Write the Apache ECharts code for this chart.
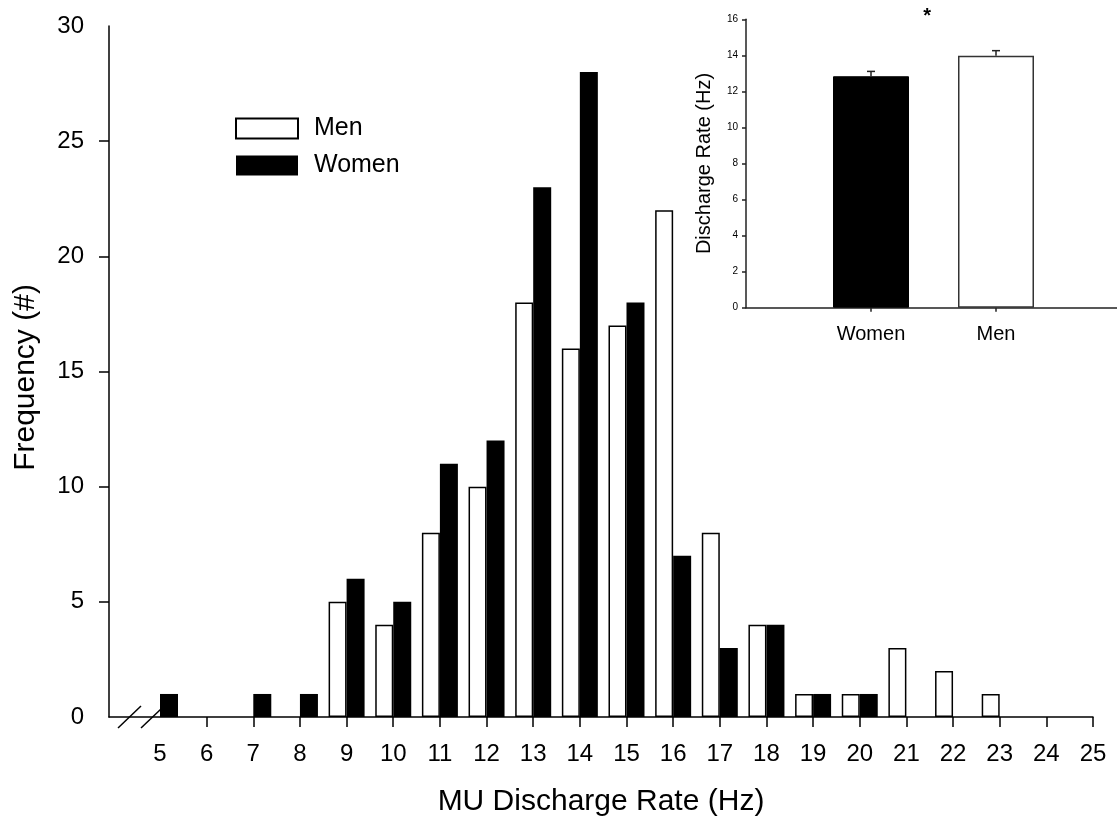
<!DOCTYPE html>
<html><head><meta charset="utf-8">
<script src="https://cdn.jsdelivr.net/npm/echarts@6/dist/echarts.min.js"></script>
<style>html,body{margin:0;padding:0;background:#fff}#c{width:1117px;height:819px}</style>
</head><body><div id="c"></div>
<script>
// ---- Data ----
const rateBins = [5,6,7,8,9,10,11,12,13,14,15,16,17,18,19,20,21,22,23,24,25];
const menCounts = [0,0,0,0,5,4,8,10,18,16,17,22,8,4,1,1,3,2,1,0,0];
const womenCounts = [1,0,1,1,6,5,11,12,23,28,18,7,3,4,1,1,0,0,0,0,0];
const xTickValues = [6,7,8,9,10,11,12,13,14,15,16,17,18,19,20,21,22,23,24,25];
const xLabelValues = [5,6,7,8,9,10,11,12,13,14,15,16,17,18,19,20,21,22,23,24,25];
const yTickValues = [5,10,15,20,25];
const insetGroups = ['Women','Men'];
const insetMeans = [12.84, 13.98];
const insetSem = [0.27, 0.28];

const FONT = "'Liberation Sans', Arial, sans-serif";
const chart = echarts.init(document.getElementById('c'), null, {renderer:'canvas'});

const toPairs = counts => rateBins.map((b,i)=>[b, counts[i]]).filter(p=>p[1]>0);
const insetPos = insetGroups.map((g,i)=>i+1);

const axisLineStyle = {color:'#000', width:1.5};
const insetLineStyle = {color:'#222', width:1.5};

chart.setOption({
  animation:false,
  backgroundColor:'#fff',
  textStyle:{fontFamily:FONT, color:'#000'},
  legend:{
    data:['Men','Women'], orient:'vertical', left:235, top:116, padding:0,
    itemWidth:62, itemHeight:20, itemGap:12, icon:'rect',
    textStyle:{fontSize:25, color:'#000', fontFamily:FONT, padding:[0,0,0,11]}
  },
  grid:[
    {left:109, right:24, top:26, bottom:102, outerBoundsMode:'none', containLabel:false},
    {left:746, right:0, top:19.3, bottom:511.3, outerBoundsMode:'none', containLabel:false}
  ],
  xAxis:[
    {type:'value', gridIndex:0, min:3.907, max:25,
     name:'MU Discharge Rate (Hz)', nameLocation:'middle', nameGap:70,
     nameTextStyle:{fontSize:30, color:'#000', fontFamily:FONT},
     axisLine:{show:true, lineStyle:axisLineStyle},
     axisTick:{show:true, length:10, customValues:xTickValues, lineStyle:axisLineStyle},
     axisLabel:{show:true, customValues:xLabelValues, fontSize:24, color:'#000', margin:25, fontFamily:FONT},
     splitLine:{show:false}},
    {type:'value', gridIndex:1, min:0, max:2.968,
     axisLine:{show:true, lineStyle:insetLineStyle},
     axisTick:{show:true, length:4, customValues:insetPos, lineStyle:insetLineStyle},
     axisLabel:{show:true, customValues:insetPos, formatter:v=>insetGroups[Math.round(v)-1]||'', fontSize:20, color:'#000', margin:17, fontFamily:FONT},
     splitLine:{show:false}}
  ],
  yAxis:[
    {type:'value', gridIndex:0, min:0, max:30, interval:5,
     name:'Frequency (#)', nameLocation:'middle', nameGap:68,
     nameTextStyle:{fontSize:30, color:'#000', fontFamily:FONT, padding:[0,12,0,0]},
     axisLine:{show:true, lineStyle:axisLineStyle},
     axisTick:{show:true, length:10, customValues:yTickValues, lineStyle:axisLineStyle},
     axisLabel:{fontSize:24, color:'#000', margin:25, fontFamily:FONT},
     splitLine:{show:false}},
    {type:'value', gridIndex:1, min:0, max:16, interval:2,
     name:'Discharge Rate (Hz)', nameLocation:'middle', nameGap:32,
     nameTextStyle:{fontSize:20, color:'#000', fontFamily:FONT},
     axisLine:{show:true, lineStyle:insetLineStyle},
     axisTick:{show:true, length:4, lineStyle:insetLineStyle},
     axisLabel:{fontSize:10, color:'#000', margin:8, fontFamily:FONT},
     splitLine:{show:false}}
  ],
  series:[
    {name:'Men', type:'bar', xAxisIndex:0, yAxisIndex:0, barWidth:18, barGap:'0%',
     itemStyle:{color:'#fff', borderColor:'#000', borderWidth:1.5},
     data:toPairs(menCounts)},
    {name:'Women', type:'bar', xAxisIndex:0, yAxisIndex:0, barWidth:18, barGap:'0%',
     itemStyle:{color:'#000', borderColor:'#000', borderWidth:0},
     data:toPairs(womenCounts)},
    {type:'bar', xAxisIndex:1, yAxisIndex:1, barWidth:76,
     data:insetPos.map((x,i)=>({value:[x, insetMeans[i]],
       itemStyle: i===0 ? {color:'#000', borderColor:'#000', borderWidth:1} : {color:'#fff', borderColor:'#333', borderWidth:1.5}}))},
    {type:'custom', xAxisIndex:1, yAxisIndex:1, z:5,
     data:insetPos.map((x,i)=>[x, insetMeans[i], insetSem[i]]),
     renderItem:function(params, api){
       const x=api.value(0), m=api.value(1), e=api.value(2);
       const p0=api.coord([x,m]), p1=api.coord([x,m+e]);
       const st={stroke:'#222', lineWidth:1.5};
       return {type:'group', children:[
         {type:'line', shape:{x1:p0[0],y1:p0[1],x2:p1[0],y2:p1[1]}, style:st},
         {type:'line', shape:{x1:p1[0]-4,y1:p1[1],x2:p1[0]+4,y2:p1[1]}, style:st}
       ]};
     }}
  ]
});

// Decorations: axis break marks and significance asterisk, placed from the axes
const o = chart.convertToPixel({xAxisIndex:0, yAxisIndex:0}, [3.907, 0]);
const star = chart.convertToPixel({xAxisIndex:1, yAxisIndex:1}, [1.45, 16]);
const brk = {stroke:'#000', lineWidth:1.5};
chart.setOption({
  graphic:[
    {type:'line', shape:{x1:o[0]+9, y1:o[1]+11, x2:o[0]+32, y2:o[1]-11}, style:brk, z:10},
    {type:'line', shape:{x1:o[0]+32, y1:o[1]+11, x2:o[0]+52, y2:o[1]-8}, style:brk, z:10},
    {type:'text', x:star[0], y:star[1]-3, style:{text:'*', font:'bold 20px '+FONT, fill:'#000', align:'center', verticalAlign:'middle'}, z:10}
  ]
});
</script></body></html>
